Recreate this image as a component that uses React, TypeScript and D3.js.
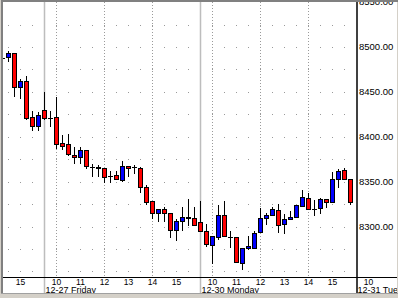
import React from "react";
import * as d3 from "d3";

// 15-minute candles, index 0 = 12-27 09:30
const startIndex = -7;
const opens = [8488.3, 8488.9, 8492.8, 8455.6, 8462.2, 8422.2, 8412.2, 8429.4, 8421.3, 8421.7, 8392.8, 8391.7, 8380.2, 8376.9, 8384.7, 8366.4, 8366.7, 8364.7, 8356.7, 8357.2, 8351.7, 8367.2, 8365.8, 8365.3, 8343.9, 8328.0, 8315.3, 8319.1, 8314.7, 8296.1, 8306.1, 8309.4, 8309.4, 8305.0, 8295.0, 8279.1, 8288.3, 8312.4, 8288.3, 8288.3, 8259.1, 8275.8, 8276.6, 8294.2, 8309.1, 8312.4, 8318.3, 8302.4, 8308.0, 8310.2, 8322.8, 8331.7, 8319.4, 8320.2, 8330.2, 8326.9, 8353.4, 8362.8, 8353.4];
const highs = [8489.4, 8495.0, 8493.0, 8463.9, 8467.2, 8428.3, 8427.2, 8449.4, 8428.3, 8443.9, 8401.7, 8402.8, 8388.7, 8388.7, 8385.0, 8369.4, 8368.3, 8365.0, 8361.7, 8361.7, 8372.8, 8367.2, 8368.0, 8366.4, 8346.1, 8328.3, 8320.0, 8322.0, 8315.0, 8308.9, 8321.7, 8330.6, 8322.0, 8328.3, 8302.8, 8289.4, 8323.9, 8328.3, 8295.0, 8288.3, 8275.8, 8289.4, 8295.0, 8320.2, 8315.3, 8322.0, 8324.7, 8313.5, 8317.2, 8323.6, 8340.6, 8336.9, 8329.4, 8332.0, 8330.2, 8360.6, 8363.9, 8365.0, 8353.4];
const lows = [8487.2, 8484.4, 8445.3, 8443.1, 8419.8, 8407.2, 8407.2, 8420.2, 8411.7, 8387.6, 8386.1, 8379.4, 8370.2, 8370.2, 8364.7, 8356.1, 8356.1, 8349.1, 8350.0, 8352.4, 8350.6, 8356.1, 8360.0, 8338.7, 8325.0, 8309.1, 8306.4, 8306.4, 8287.8, 8284.7, 8295.8, 8302.2, 8301.3, 8294.7, 8278.7, 8259.4, 8285.8, 8289.1, 8276.9, 8260.2, 8252.4, 8275.0, 8275.9, 8294.2, 8302.4, 8312.4, 8294.4, 8292.4, 8308.0, 8310.2, 8322.8, 8319.1, 8313.2, 8315.4, 8321.9, 8326.9, 8344.2, 8353.4, 8325.4];
const closes = [8488.3, 8492.8, 8455.6, 8461.7, 8421.1, 8412.2, 8423.9, 8420.6, 8421.3, 8392.2, 8390.2, 8380.6, 8376.9, 8384.7, 8366.9, 8366.4, 8365.0, 8355.3, 8356.7, 8352.4, 8367.2, 8364.7, 8365.8, 8343.5, 8327.5, 8315.3, 8319.1, 8314.7, 8296.1, 8306.1, 8310.6, 8310.2, 8301.3, 8294.7, 8280.0, 8289.4, 8312.4, 8289.1, 8288.3, 8260.2, 8275.8, 8278.3, 8293.2, 8309.1, 8312.4, 8319.4, 8301.3, 8308.0, 8310.2, 8323.6, 8332.4, 8319.1, 8319.4, 8330.2, 8326.9, 8353.4, 8361.7, 8353.4, 8327.2];

const yTickValues = [8300, 8350, 8400, 8450, 8500, 8550];
const gridValues = [8250, 8275, 8300, 8325, 8350, 8375, 8400, 8425, 8450, 8475, 8500, 8525];

const hourLabels = ["15", "10", "11", "12", "13", "14", "15", "10", "11", "12", "13", "14", "15", "10"];
const hourIndex = [-4, 2, 6, 10, 14, 18, 22, 28, 32, 36, 40, 44, 48, 54];
const gridHourIndex = [2, 10, 18, 28, 36, 44];
const dayLabels = ["12-27 Friday", "12-30 Monday", "12-31 Tue"];
const dayStarts = [0, 26, 52];

const FONT = "'Liberation Sans', Arial, sans-serif";

export default function App() {
  const W = 398;
  const H = 298;
  const x = d3.scaleLinear().domain([0, 1]).range([44.5, 50.5]);
  const y = d3.scaleLinear().domain([8300, 8500]).range([226.5, 47]);
  const plotLeft = 3;
  const plotTop = 2;
  const axisX = 357;
  const axisY = 277;

  const candles = opens.map((o, i) => ({
    k: startIndex + i,
    o,
    h: highs[i],
    l: lows[i],
    c: closes[i],
  }));

  return (
    <svg
      width={W}
      height={H}
      style={{ position: "fixed", left: 0, top: 0, display: "block" }}
      fontFamily={FONT}
    >
      <defs>
        <clipPath id="plotClip">
          <rect x={plotLeft} y={plotTop} width={axisX - plotLeft - 0.5} height={axisY - plotTop} />
        </clipPath>
      </defs>
      <rect x={0} y={0} width={W} height={H} fill="#D4D0C8" />
      <rect x={plotLeft} y={plotTop} width={W - plotLeft - 1} height={293 - plotTop} fill="#FFFFFF" />

      {/* horizontal dotted grid */}
      {gridValues.map((v) => (
        <line
          key={"hg" + v}
          x1={x(-6) - 0.5}
          x2={axisX - 1}
          y1={Math.round(y(v)) + 0.5}
          y2={Math.round(y(v)) + 0.5}
          stroke="#9A9A9A"
          strokeWidth={1}
          strokeDasharray="1,11"
        />
      ))}
      {/* vertical dotted grid */}
      {gridHourIndex.map((k) => (
        <line
          key={"vg" + k}
          x1={x(k)}
          x2={x(k)}
          y1={plotTop}
          y2={axisY}
          stroke="#9A9A9A"
          strokeWidth={1}
          strokeDasharray="1,2"
        />
      ))}
      {/* day separators */}
      {dayStarts
        .filter((k) => x(k) < axisX - 2)
        .map((k) => (
          <line key={"ds" + k} x1={x(k)} x2={x(k)} y1={plotTop} y2={293} stroke="#BDBDBD" strokeWidth={1.5} />
        ))}

      {/* candles */}
      <g clipPath="url(#plotClip)">
        {candles.map((d) => {
          const cx = x(d.k);
          const yH = Math.round(y(d.h));
          const yL = Math.round(y(d.l));
          const yTop = Math.round(y(Math.max(d.o, d.c)));
          const yBot = Math.round(y(Math.min(d.o, d.c)));
          const up = d.c > d.o;
          const fill = up ? "#0000FF" : "#FF0000";
          return (
            <g key={"c" + d.k}>
              <line x1={cx} x2={cx} y1={yH} y2={yL + 1} stroke="#000" strokeWidth={1} />
              {yBot - yTop < 1 ? (
                <line x1={cx - 2.5} x2={cx + 2.5} y1={yTop + 0.5} y2={yTop + 0.5} stroke="#000" strokeWidth={1} />
              ) : (
                <rect
                  x={cx - 2}
                  y={yTop + 0.5}
                  width={4}
                  height={yBot - yTop}
                  fill={fill}
                  stroke="#000"
                  strokeWidth={1}
                />
              )}
            </g>
          );
        })}
      </g>

      {/* axes */}
      <line x1={axisX} x2={axisX} y1={plotTop} y2={293} stroke="#000" strokeWidth={1.5} />
      <line x1={plotLeft} x2={W - 1} y1={axisY + 0.5} y2={axisY + 0.5} stroke="#000" strokeWidth={1} />

      {/* y labels */}
      {yTickValues.map((v) => (
        <text
          key={"yl" + v}
          x={359}
          y={y(v)}
          dy="0.35em"
          fontSize={9.5}
          fill="#000"
        >
          {v.toFixed(2)}
        </text>
      ))}

      {/* x hour labels */}
      {hourLabels.map((t, i) => (
        <text key={"hl" + i} x={x(hourIndex[i])} y={284.8} textAnchor="middle" fontSize={8.5} fill="#000">
          {t}
        </text>
      ))}
      {/* date labels */}
      {dayLabels.map((t, i) => (
        <text key={"dl" + i} x={x(dayStarts[i]) + 1} y={292.5} fontSize={9} fill="#000">
          {t}
        </text>
      ))}

      {/* frame */}
      <rect x={W - 1} y={0} width={1} height={H} fill="#D4D0C8" />
      <rect x={0} y={293} width={W} height={H - 293} fill="#D4D0C8" />
      <line x1={0} x2={W} y1={293.5} y2={293.5} stroke="#A0A0A0" strokeWidth={1} />
      <rect x={0} y={0} width={W} height={2} fill="#808080" />
      <rect x={1} y={0} width={2} height={293} fill="#808080" />
      <rect x={0} y={0} width={1} height={H} fill="#D4D0C8" />
    </svg>
  );
}
